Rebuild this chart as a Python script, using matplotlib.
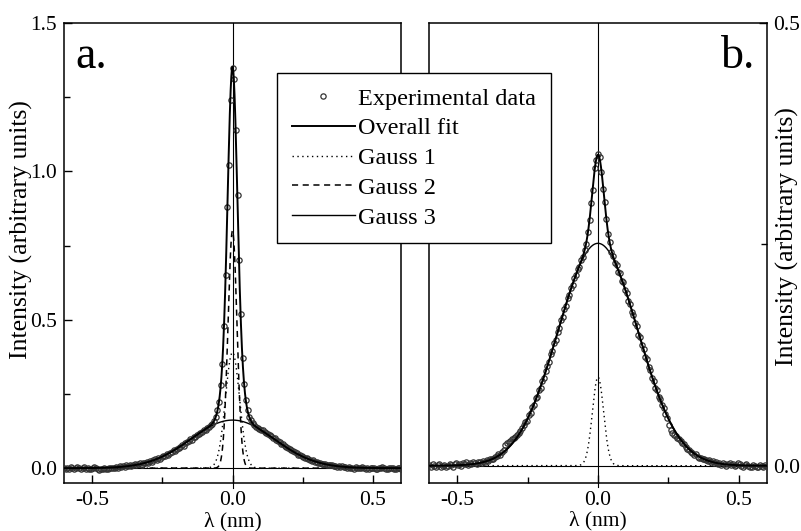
import numpy as np
import matplotlib
matplotlib.use("Agg")
import matplotlib.pyplot as plt
from matplotlib.ticker import MultipleLocator, FormatStrFormatter

plt.rcParams['font.family'] = ['Liberation Serif', 'DejaVu Serif']
plt.rcParams['axes.unicode_minus'] = False

# measured spectra (arbitrary units), sampled evenly from -0.6 to 0.6 nm
exp_a = [
    0.002, -0.003, 0.001, -0.002, 0.003, 0.000, -0.004, 0.002, 0.004, -0.001,
    -0.003, 0.001, 0.003, -0.002, 0.000, -0.004, -0.002, 0.002, 0.004, 0.001,
    -0.003, -0.005, -0.002, -0.004, -0.001, -0.003, -0.002, 0.001, -0.001, 0.002,
    0.000, 0.004, 0.002, 0.006, 0.003, 0.008, 0.004, 0.009, 0.006, 0.010,
    0.007, 0.011, 0.013, 0.009, 0.014, 0.016, 0.012, 0.018, 0.016, 0.021,
    0.019, 0.024, 0.021, 0.027, 0.030, 0.028, 0.034, 0.031, 0.038, 0.042,
    0.041, 0.047, 0.045, 0.052, 0.054, 0.061, 0.058, 0.066, 0.068, 0.072,
    0.079, 0.076, 0.084, 0.087, 0.091, 0.099, 0.096, 0.104, 0.106, 0.111,
    0.114, 0.120, 0.121, 0.128, 0.129, 0.136, 0.138, 0.146, 0.149, 0.158,
    0.172, 0.195, 0.222, 0.280, 0.352, 0.478, 0.652, 0.880, 1.020, 1.240,
    1.350,
    1.310, 1.140, 0.920, 0.700, 0.520, 0.370, 0.285, 0.228, 0.196, 0.174,
    0.162, 0.153, 0.147, 0.140, 0.137, 0.133, 0.128, 0.127, 0.122, 0.119,
    0.115, 0.111, 0.108, 0.103, 0.100, 0.095, 0.092, 0.087, 0.083, 0.080,
    0.075, 0.072, 0.068, 0.064, 0.060, 0.057, 0.053, 0.051, 0.046, 0.044,
    0.040, 0.039, 0.035, 0.034, 0.030, 0.029, 0.025, 0.026, 0.021, 0.022,
    0.018, 0.019, 0.015, 0.013, 0.014, 0.011, 0.012, 0.009, 0.010, 0.007,
    0.008, 0.005, 0.007, 0.004, 0.006, 0.003, 0.005, 0.001, 0.004, 0.002,
    0.000, -0.002, 0.003, 0.001, -0.001, 0.002, 0.004, 0.001, -0.002, 0.000,
    -0.003, -0.001, 0.002, 0.000, -0.002, -0.004, -0.001, 0.001, 0.003, 0.000,
    -0.002, -0.003, 0.000, 0.002, -0.001, -0.004, -0.002, 0.001, -0.001, -0.003,
]
exp_b = [
    0.001, -0.001, 0.002, 0.000, -0.002, 0.001, 0.002, -0.001, 0.000, 0.001,
    -0.002, 0.000, 0.002, 0.001, -0.001, 0.002, 0.003, 0.001, 0.002, 0.000,
    0.003, 0.002, 0.004, 0.001, 0.003, 0.002, 0.004, 0.003, 0.002, 0.004,
    0.004, 0.003, 0.005, 0.004, 0.006, 0.005, 0.007, 0.008, 0.007, 0.010,
    0.011, 0.013, 0.012, 0.015, 0.018, 0.023, 0.026, 0.027, 0.028, 0.030,
    0.031, 0.032, 0.035, 0.037, 0.039, 0.042, 0.046, 0.049, 0.051, 0.057,
    0.059, 0.066, 0.069, 0.076, 0.078, 0.085, 0.088, 0.096, 0.099, 0.107,
    0.113, 0.117, 0.126, 0.130, 0.139, 0.142, 0.151, 0.155, 0.164, 0.168,
    0.177, 0.180, 0.189, 0.193, 0.201, 0.204, 0.212, 0.215, 0.222, 0.224,
    0.232, 0.235, 0.244, 0.250, 0.264, 0.277, 0.297, 0.311, 0.336, 0.345,
    0.352,
    0.348, 0.332, 0.312, 0.298, 0.279, 0.262, 0.253, 0.241, 0.237, 0.229,
    0.227, 0.219, 0.217, 0.209, 0.207, 0.198, 0.195, 0.186, 0.183, 0.174,
    0.170, 0.161, 0.158, 0.148, 0.145, 0.136, 0.132, 0.123, 0.120, 0.111,
    0.108, 0.099, 0.096, 0.088, 0.085, 0.077, 0.075, 0.068, 0.065, 0.058,
    0.054, 0.046, 0.040, 0.037, 0.035, 0.033, 0.031, 0.030, 0.028, 0.026,
    0.024, 0.021, 0.019, 0.018, 0.015, 0.014, 0.012, 0.013, 0.010, 0.009,
    0.009, 0.007, 0.008, 0.006, 0.005, 0.006, 0.004, 0.005, 0.003, 0.004,
    0.002, 0.003, 0.001, 0.003, 0.002, 0.000, 0.002, 0.003, 0.001, 0.002,
    0.000, 0.001, 0.003, 0.002, 0.000, -0.001, 0.001, 0.002, 0.000, -0.002,
    -0.001, 0.001, 0.000, -0.002, -0.001, 0.001, 0.000, -0.002, 0.001, 0.000,
]

# fitted gaussians (amplitude, sigma in nm), all centred at 0
gauss_a_amp = [0.39, 0.80, 0.162]
gauss_a_sigma = [0.025, 0.016, 0.148]
gauss_b_amp = [0.10, 0.251]
gauss_b_sigma = [0.020, 0.142]

legend_labels = ["Experimental data", "Overall fit", "Gauss 1", "Gauss 2", "Gauss 3"]

W, H = 801, 531
fig = plt.figure(figsize=(W / 100, H / 100), dpi=100)
ax_a = fig.add_axes([64 / W, 1 - 483 / H, 337 / W, 460 / H])
ax_b = fig.add_axes([429.3 / W, 1 - 482.7 / H, 337.4 / W, 460 / H])

x_fit = np.linspace(-0.6, 0.6, 2001)


def gauss(x, amp, sigma):
    return amp * np.exp(-x ** 2 / (2 * sigma ** 2))


def style(ax):
    ax.set_xlim(-0.6, 0.6)
    ax.xaxis.set_major_locator(MultipleLocator(0.5))
    ax.xaxis.set_minor_locator(MultipleLocator(0.25))
    ax.yaxis.set_major_formatter(FormatStrFormatter('%.1f'))
    ax.tick_params(which='both', direction='in', top=False, labelsize=15.5)
    ax.tick_params(which='major', length=6, width=1)
    ax.tick_params(which='minor', length=4, width=1)
    ax.tick_params(axis='x', pad=6)
    for s in ax.spines.values():
        s.set_linewidth(1.1)
    ax.axhline(0, color='black', lw=0.8, zorder=1)
    ax.axvline(0, ymin=-0.01, color='black', lw=0.8, clip_on=False, zorder=1)
    ax.set_xlabel("λ (nm)", fontsize=15.5)
    ax.xaxis.set_label_coords(0.5, -0.062)


# panel a
wl_a = np.linspace(-0.6, 0.6, len(exp_a))
g1 = gauss(x_fit, gauss_a_amp[0], gauss_a_sigma[0])
g2 = gauss(x_fit, gauss_a_amp[1], gauss_a_sigma[1])
g3 = gauss(x_fit, gauss_a_amp[2], gauss_a_sigma[2])
h_data, = ax_a.plot(wl_a, exp_a, 'o', ms=3.8, mfc='none', mec='#333333', mew=0.9, zorder=3)
h_fit, = ax_a.plot(x_fit, g1 + g2 + g3, color='black', lw=1.4, zorder=4)
h_g1, = ax_a.plot(x_fit, g1, color='black', lw=1.0, ls=(0, (1, 2.5)), zorder=2)
h_g2, = ax_a.plot(x_fit, g2, color='black', lw=1.1, ls=(0, (4, 3)), zorder=2)
h_g3, = ax_a.plot(x_fit, g3, color='black', lw=1.0, zorder=2)
style(ax_a)
ax_a.set_ylim(-0.05, 1.5)
ax_a.yaxis.set_major_locator(MultipleLocator(0.5))
ax_a.yaxis.set_minor_locator(MultipleLocator(0.25))
ax_a.tick_params(axis='y', left=True, right=False, pad=5)
ax_a.set_ylabel("Intensity (arbitrary units)", fontsize=18.5)
ax_a.yaxis.set_label_coords(-0.093, 0.55)
ax_a.text(0.033, 0.902, "a.", transform=ax_a.transAxes, fontsize=33, va='baseline', ha='left')

# panel b
wl_b = np.linspace(-0.6, 0.6, len(exp_b))
b1 = gauss(x_fit, gauss_b_amp[0], gauss_b_sigma[0])
b3 = gauss(x_fit, gauss_b_amp[1], gauss_b_sigma[1])
ax_b.plot(wl_b, exp_b, 'o', ms=3.8, mfc='none', mec='#333333', mew=0.9, zorder=3)
ax_b.plot(x_fit, b1 + b3, color='black', lw=1.4, zorder=4)
ax_b.plot(x_fit, b1, color='black', lw=1.0, ls=(0, (1, 2.5)), zorder=2)
ax_b.plot(x_fit, b3, color='black', lw=1.0, zorder=2)
style(ax_b)
ax_b.set_ylim(-0.0192, 0.5)
ax_b.yaxis.set_major_locator(MultipleLocator(0.5))
ax_b.yaxis.set_minor_locator(MultipleLocator(0.25))
ax_b.yaxis.tick_right()
ax_b.yaxis.set_label_position('right')
ax_b.tick_params(axis='y', left=False, right=True, pad=4.5)
ax_b.set_ylabel("Intensity (arbitrary units)", fontsize=18.5)
ax_b.yaxis.set_label_coords(1.028, 0.536)
ax_b.text(0.965, 0.902, "b.", transform=ax_b.transAxes, fontsize=33, va='baseline', ha='right')

leg = fig.legend([h_data, h_fit, h_g1, h_g2, h_g3], legend_labels,
                 loc='upper left', bbox_to_anchor=(277 / W, 1 - 73 / H),
                 fontsize=17.5, numpoints=1, frameon=True, fancybox=False,
                 edgecolor='black', framealpha=1, handlelength=2.6,
                 handletextpad=0.15, labelspacing=0.32, borderpad=0.6,
                 borderaxespad=0)
leg.get_frame().set_linewidth(1.0)

fig.savefig("out.png", dpi=100)
